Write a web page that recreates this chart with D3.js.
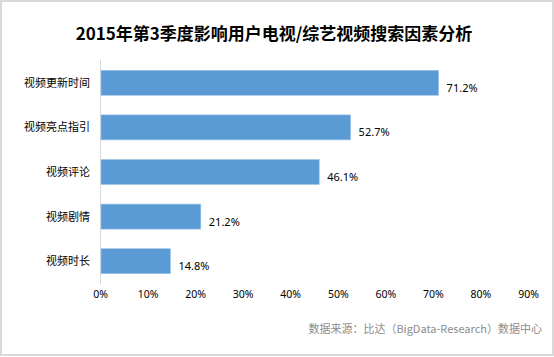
<!DOCTYPE html>
<html><head><meta charset="utf-8">
<script src="https://cdn.jsdelivr.net/npm/d3@7"></script>
<style>body{margin:0;background:#fff}svg{display:block}</style>
</head><body>
<script>
const categories = ["视频更新时间","视频亮点指引","视频评论","视频剧情","视频时长"];
const values = [71.2, 52.7, 46.1, 21.2, 14.8];
const tickValues = [0,10,20,30,40,50,60,70,80,90];
const title = "2015年第3季度影响用户电视/综艺视频搜索因素分析";
const source = "数据来源：比达（BigData-Research）数据中心";

const W = 554, H = 357;
const svg = d3.select("body").append("svg").attr("width", W).attr("height", H);
svg.append("rect").attr("x",1).attr("y",1).attr("width",552).attr("height",354)
  .attr("fill","#fff").attr("stroke","#d9d9d9").attr("stroke-width",2);

const x = d3.scaleLinear().domain([0,90]).range([100,528]);
const y = d3.scaleBand().domain(categories).range([60.5,283.5]).paddingInner(0.44).paddingOuter(0.22);

svg.append("text").attr("x",274).attr("y",40).attr("text-anchor","middle")
  .attr("font-family","'Noto Sans CJK SC', sans-serif").attr("font-weight","bold")
  .attr("font-size",17).attr("fill","#000").text(title);

svg.append("line").attr("x1",100.5).attr("x2",100.5).attr("y1",60).attr("y2",284)
  .attr("stroke","#d9d9d9").attr("stroke-width",1);

svg.selectAll("rect.bar").data(values).enter().append("rect").attr("class","bar")
  .attr("x", x(0)+1).attr("y",(d,i)=>y(categories[i]))
  .attr("width", d=>x(d)-x(0)-1).attr("height", y.bandwidth())
  .attr("fill","#5b9bd5").attr("stroke","#9dc3e6").attr("stroke-width",0.6);

svg.selectAll("text.val").data(values).enter().append("text").attr("class","val")
  .attr("x", d=>x(d)+8).attr("y",(d,i)=>y(categories[i])+y.bandwidth()/2+9)
  .attr("font-family","'Noto Sans', sans-serif").attr("font-size",11).attr("fill","#000")
  .text(d=>d.toFixed(1)+"%");

svg.selectAll("text.cat").data(categories).enter().append("text").attr("class","cat")
  .attr("x",90).attr("y",d=>y(d)+y.bandwidth()/2+4).attr("text-anchor","end")
  .attr("font-family","'Noto Sans CJK SC', sans-serif").attr("font-size",11).attr("fill","#000")
  .text(d=>d);

const axis = d3.axisBottom(x).tickValues(tickValues).tickSize(0).tickFormat(d=>d+"%");
const g = svg.append("g").attr("transform","translate(0,288)").call(axis);
g.select(".domain").remove();
g.selectAll("text").attr("font-family","'Noto Sans', sans-serif").attr("font-size",10.5).attr("fill","#000");

svg.append("text").attr("x",542).attr("y",333).attr("text-anchor","end")
  .attr("font-family","'Noto Sans CJK SC', serif").attr("font-size",11).attr("fill","#8c8c8c")
  .text(source);
</script>
</body></html>
